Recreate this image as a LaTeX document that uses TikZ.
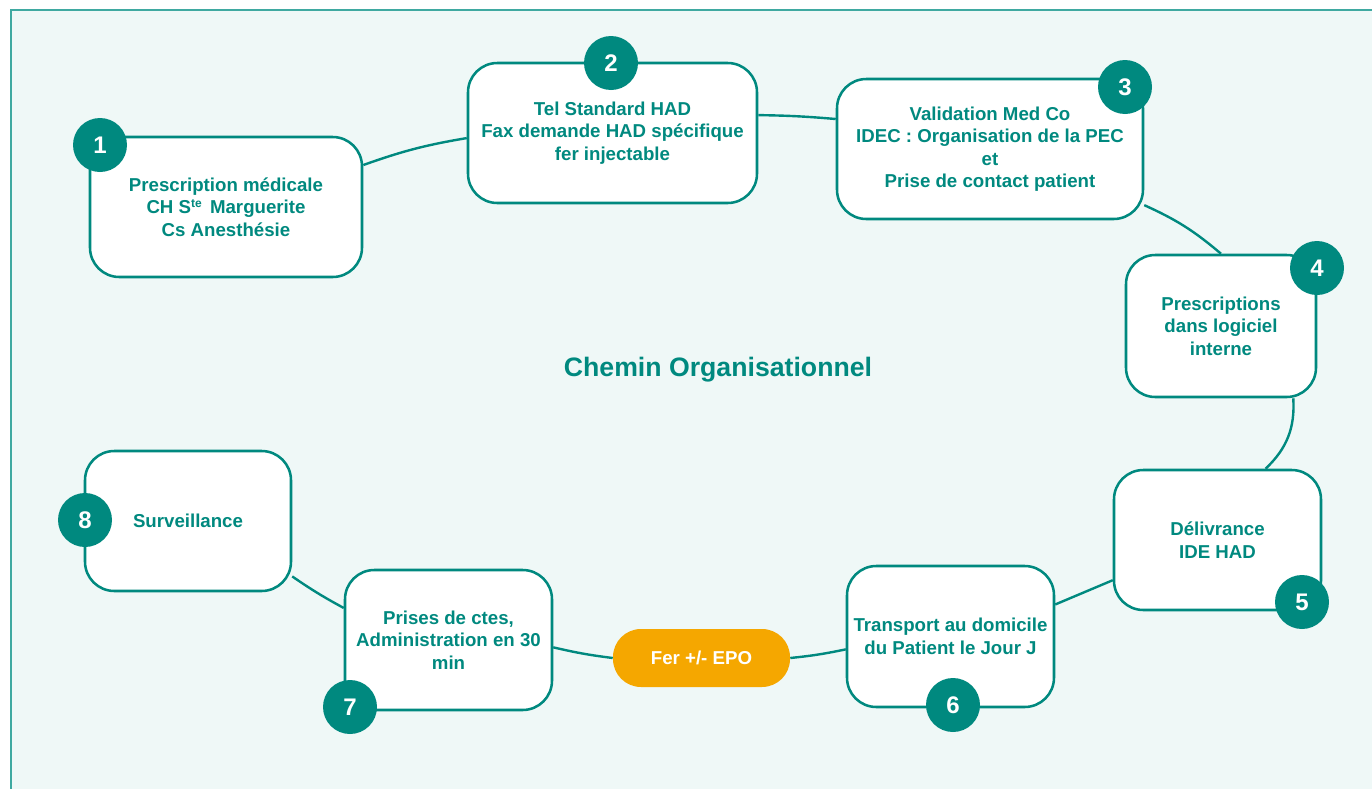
\documentclass[tikz,border=0pt]{standalone}
\usepackage{fontspec}
\setmainfont{Liberation Sans}
\usetikzlibrary{backgrounds}
\definecolor{hadteal}{HTML}{00897F}
\definecolor{hadfond}{HTML}{EFF8F7}
\definecolor{hadcadre}{HTML}{3FA9A1}
\definecolor{hadorange}{HTML}{F5A700}
\begin{document}
\begin{tikzpicture}[x=0.75pt,y=-0.75pt,line join=round,line cap=round,
    etape/.style 2 args={draw=hadteal,line width=1.9pt,fill=white,rounded corners=22pt,
        minimum width=#1*0.75pt,minimum height=#2*0.75pt,inner sep=2pt,align=center,
        text=hadteal,font=\fontsize{14}{16.9}\selectfont\bfseries},
    numero/.style={circle,fill=hadteal,minimum size=54*0.75pt,inner sep=0pt,
        text=white,font=\fontsize{18}{18}\selectfont\bfseries},
    pilule/.style={fill=hadorange,rounded corners=21pt,minimum width=177*0.75pt,
        minimum height=58*0.75pt,text=white,font=\fontsize{14}{16.9}\selectfont\bfseries},
    lien/.style={draw=hadteal,line width=1.8pt}]
    \useasboundingbox (0,0) rectangle (1372,789);
    % les etapes
    \node[etape={272}{140}] (b1) at (226,207) {Prescription médicale\\CH S{\fontsize{9}{9}\selectfont\raisebox{0.55em}{te}}\,\ Marguerite\\Cs Anesthésie};
    \node[etape={289}{140}] (b2) at (612.5,133) {Tel Standard HAD\\Fax demande HAD spécifique\\fer injectable};
    \node[etape={306}{140}] (b3) at (990,149) {Validation Med Co\\IDEC : Organisation de la PEC\\et\\Prise de contact patient};
    \node[etape={190}{142}] (b4) at (1221,326) {Prescriptions\\dans logiciel\\interne};
    \node[etape={207}{140}] (b5) at (1217.5,540) {Délivrance\\IDE HAD};
    \node[etape={207}{141}] (b6) at (950.5,636.5) {Transport au domicile\\du Patient le Jour J};
    \node[etape={207}{140}] (b7) at (448.5,640) {Prises de ctes,\\Administration en 30\\min};
    \node[etape={206}{140}] (b8) at (188,521) {Surveillance};
    \node[pilule] (fer) at (701.5,658) {Fer +/- EPO};
    % les pastilles
    \node[numero] (n1) at (100,145) {1};
    \node[numero] (n2) at (611,63) {2};
    \node[numero] (n3) at (1125,87) {3};
    \node[numero] (n4) at (1317,268) {4};
    \node[numero] (n5) at (1302,602) {5};
    \node[numero] (n6) at (953,705) {6};
    \node[numero] (n7) at (350,707) {7};
    \node[numero] (n8) at (85,520) {8};
    \node[text=hadteal,font=\fontsize{20}{24}\selectfont\bfseries] (titre) at (718,370) {Chemin Organisationnel};
    \begin{scope}[on background layer]
        \fill[hadfond] (11,10) rectangle (1385,800);
        \draw[hadcadre,line width=1.5pt] (11,800) -- (11,10) -- (1385,10);
        % le chemin
        \draw[lien] (b1.17) to[bend left=5] (b2.182);
        \draw[lien] (b2.7) to[bend left=2] (b3.169);
        \draw[lien] (b3.-20) to[bend left=8] (b4.north);
        \draw[lien] (b4.-45) to[bend left=25] (b5.56);
        \draw[lien] (b5.201) -- (b6.17);
        \draw[lien] (b6.187) to[bend left=3] (fer.east);
        \draw[lien] (fer.west) to[bend left=3] (b7.-4);
        \draw[lien] (b7.163) to[bend left=3] (b8.-28);
    \end{scope}
\end{tikzpicture}
\end{document}
